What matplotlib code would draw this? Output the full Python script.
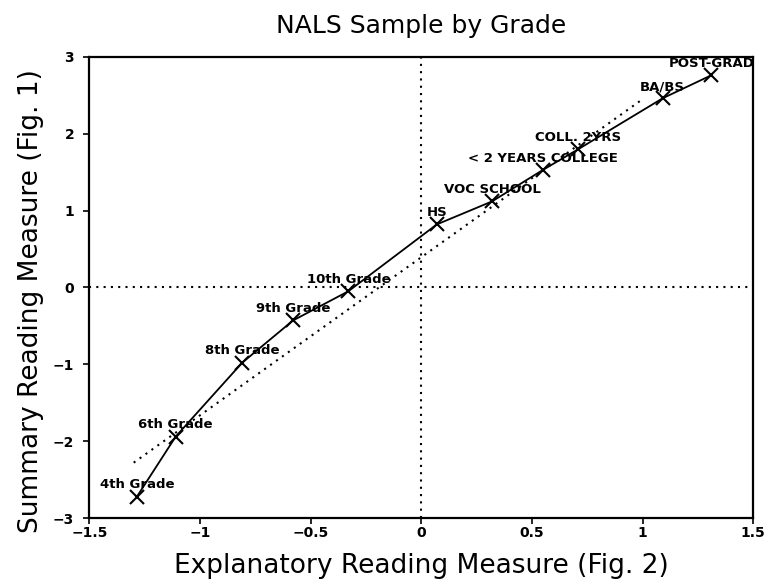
import matplotlib
matplotlib.use("Agg")
import matplotlib.pyplot as plt

# Data
labels = ["4th Grade", "6th Grade", "8th Grade", "9th Grade", "10th Grade", "HS",
          "VOC SCHOOL", "< 2 YEARS COLLEGE", "COLL. 2YRS", "BA/BS", "POST-GRAD"]
x_vals = [-1.285, -1.11, -0.81, -0.58, -0.33, 0.07, 0.32, 0.55, 0.71, 1.09, 1.31]
y_vals = [-2.72, -1.94, -0.98, -0.43, -0.05, 0.82, 1.12, 1.53, 1.80, 2.46, 2.76]
fit_x = [-1.30, 1.00]
fit_y = [-2.28, 2.45]
x_ticks = [-1.5, -1, -0.5, 0, 0.5, 1, 1.5]
x_ticklabels = ["\u22121.5", "\u22121", "\u22120.5", "0", "0.5", "1", "1.5"]
y_ticks = [-3, -2, -1, 0, 1, 2, 3]
y_ticklabels = ["\u22123", "\u22122", "\u22121", "0", "1", "2", "3"]

fig = plt.figure(figsize=(7.71, 5.86), dpi=100)
ax = fig.add_axes([0.116, 0.116, 0.861, 0.787])

dot = (0, (1, 2.5))
ax.axhline(0, color="black", lw=1.5, ls=dot, zorder=1)
ax.axvline(0, color="black", lw=1.5, ls=dot, zorder=1)
ax.plot(fit_x, fit_y, color="black", lw=1.5, ls=dot, zorder=1)
ax.plot(x_vals, y_vals, color="black", lw=1.3, marker="x", ms=10, mew=1.5, zorder=2)

for lab, xv, yv in zip(labels, x_vals, y_vals):
    ax.annotate(lab, (xv, yv), xytext=(0, 8.5), textcoords="offset points",
                ha="center", va="center", fontsize=9.5, fontweight="bold")

ax.set_xlim(-1.5, 1.5)
ax.set_ylim(-3, 3)
ax.set_xticks(x_ticks)
ax.set_xticklabels(x_ticklabels, fontweight="bold", fontsize=10)
ax.set_yticks(y_ticks)
ax.set_yticklabels(y_ticklabels, fontweight="bold", fontsize=10)
ax.tick_params(axis="x", direction="out", length=4, width=1.2, pad=2)
ax.tick_params(axis="y", direction="out", length=4, width=1.2, pad=7)
for s in ax.spines.values():
    s.set_linewidth(1.6)

ax.set_title("NALS Sample by Grade", fontsize=18, pad=17)
ax.set_xlabel("Explanatory Reading Measure (Fig. 2)", fontsize=19)
ax.xaxis.set_label_coords(0.5, -0.075)
ax.set_ylabel("Summary Reading Measure (Fig. 1)", fontsize=19)
ax.yaxis.set_label_coords(-0.069, 0.47)

fig.savefig("out.png", dpi=100)
